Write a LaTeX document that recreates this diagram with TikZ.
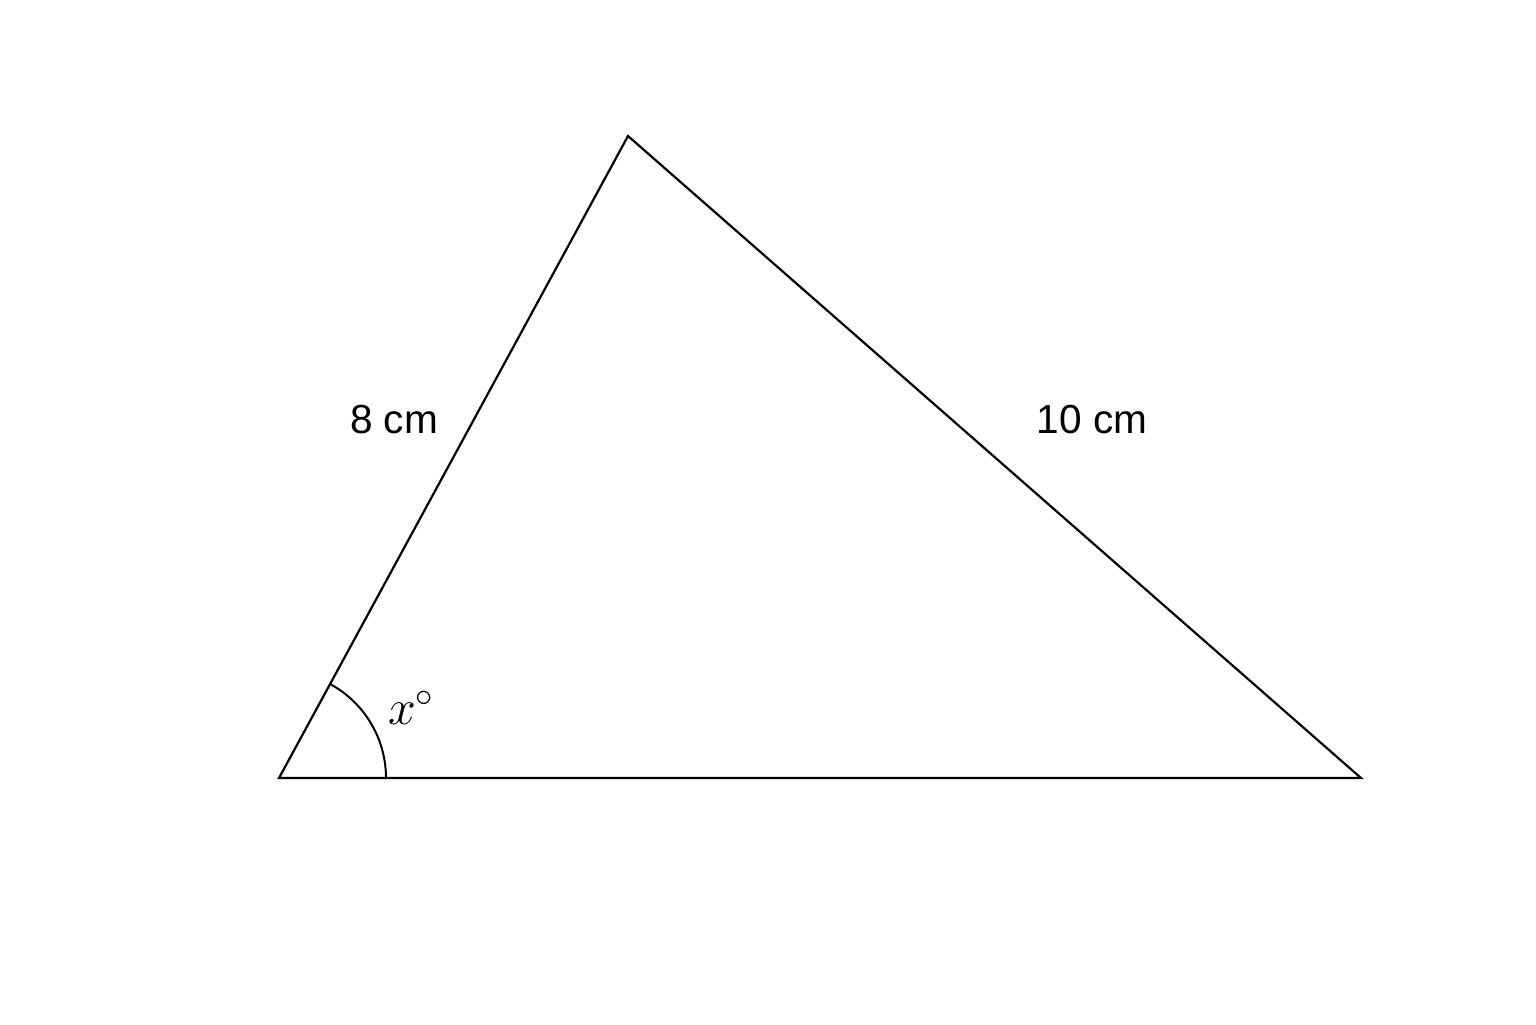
\documentclass[tikz,border=0pt]{standalone}
\usepackage{fontspec}
\setmainfont{Liberation Sans}
\begin{document}
\begin{tikzpicture}[x=0.5pt,y=-0.5pt,
  edge/.style={draw=black,line width=1.1pt,line join=miter},
  lbl/.style={font=\fontsize{20.3}{24}\selectfont,inner sep=0pt}]
\useasboundingbox[fill=white] (0,0) rectangle (1536,1024);
\coordinate (A) at (279,778);
\coordinate (B) at (628,136);
\coordinate (C) at (1361,778);
\draw[edge] (A) -- (B) -- (C) -- cycle;
\draw[line width=1pt] (386,778) arc[start angle=0,end angle=-61.47,radius=107];
\node[lbl] (l8) at (394,420) {8 cm};
\node[lbl] (l10) at (1092,420) {10 cm};
\node[inner sep=0pt,font=\fontsize{23}{27}\selectfont] (lx) at (411,708) {$x^\circ$};
\end{tikzpicture}
\end{document}
